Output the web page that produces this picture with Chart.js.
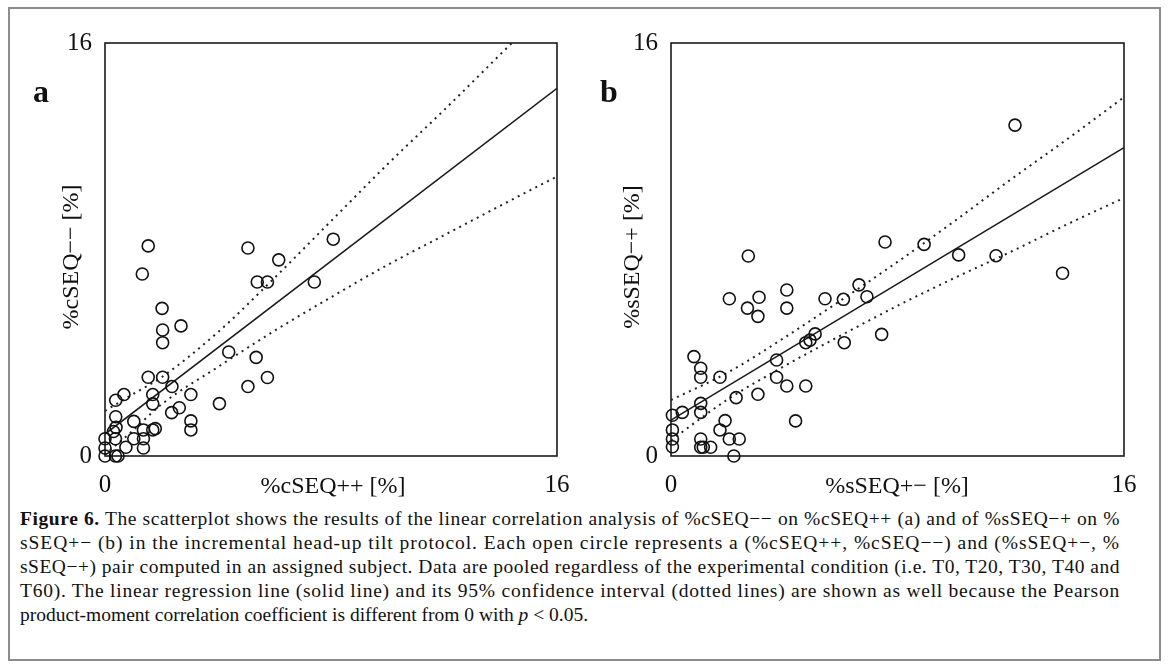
<!DOCTYPE html>
<html>
<head>
<meta charset="utf-8">
<script src="https://cdn.jsdelivr.net/npm/chart.js@4.4.1/dist/chart.umd.min.js"></script>
<style>
  body { margin: 0; background: #fff; }
  #page { position: relative; width: 1170px; height: 670px; overflow: hidden; font-family: "Liberation Serif", "Times New Roman", serif; color: #111; }
  #frame { position: absolute; left: 8px; top: 7px; width: 1153px; height: 654px; border: 2px solid #8c8c8c; box-sizing: border-box; }
  canvas { position: absolute; top: 0; }
  .tag { position: absolute; font-weight: bold; font-size: 32px; line-height: 32px; }
  .cap { position: absolute; left: 20px; font-size: 19.5px; line-height: 24px; white-space: nowrap; }
</style>
</head>
<body>
<div id="page">
  <div id="frame"></div>
  <canvas id="chartA" width="590" height="500" style="left:0px"></canvas>
  <canvas id="chartB" width="580" height="500" style="left:590px"></canvas>
  <div class="tag" style="left:33px; top:75px">a</div>
  <div class="tag" style="left:600px; top:75px">b</div>
  <div class="cap full" style="top:507px"><b>Figure 6.</b> The scatterplot shows the results of the linear correlation analysis of %cSEQ−− on %cSEQ++ (a) and of %sSEQ−+ on %</div>
  <div class="cap full" style="top:531px">sSEQ+− (b) in the incremental head-up tilt protocol. Each open circle represents a (%cSEQ++, %cSEQ−−) and (%sSEQ+−, %</div>
  <div class="cap full" style="top:555px">sSEQ−+) pair computed in an assigned subject. Data are pooled regardless of the experimental condition (i.e. T0, T20, T30, T40 and</div>
  <div class="cap full" style="top:579px">T60). The linear regression line (solid line) and its 95% confidence interval (dotted lines) are shown as well because the Pearson</div>
  <div class="cap" style="top:603px">product-moment correlation coefficient is different from 0 with <i>p</i> &lt; 0.05.</div>
</div>
<script>
// axis range and tick labels (same for both panels)
const axisMin = 0;
const axisMax = 16;
const tickVals = [0, 16];

// panel a: %cSEQ++ (x) vs %cSEQ-- (y)
const aX = [1.53, 1.32, 5.06, 8.08, 6.15, 5.39, 5.75, 7.41, 2.02, 2.69, 2.04, 2.04, 4.38, 5.35, 5.75, 5.06,
  4.05, 1.53, 2.04, 2.37, 3.04, 1.69, 1.69, 0.67, 0.38, 0.38, 2.63, 2.36, 1.02, 3.04, 3.04, 1.78,
  1.69, 1.36, 0.39, 0.30, 0, 0.37, 1.02, 1.36, 0, 0.74, 1.36, 0, 0.37, 0.46];
const aY = [8.14, 7.05, 8.06, 8.40, 7.60, 6.74, 6.74, 6.74, 5.72, 5.04, 4.88, 4.39, 4.03, 3.82, 3.04, 2.69,
  2.03, 3.05, 3.05, 2.69, 2.38, 2.38, 2.02, 2.38, 2.16, 1.52, 1.87, 1.68, 1.34, 1.36, 1.01, 1.06,
  1.01, 1.01, 1.11, 0.95, 0.67, 0.67, 0.67, 0.67, 0.31, 0.34, 0.31, 0, 0, 0];
const aFitX = [0, 16];
const aFitY = [0.85, 14.24];
const aUpX = [0, 1, 2, 4, 6, 8, 10, 12, 14.4];
const aUpY = [1.75, 2.4, 3.05, 4.8, 6.9, 9.1, 11.3, 13.4, 16];
const aLoX = [0, 1, 2, 4, 6, 8, 10, 12, 14, 16];
const aLoY = [0.05, 1.0, 2.0, 3.45, 4.85, 6.15, 7.4, 8.55, 9.7, 10.83];

// panel b: %sSEQ+- (x) vs %sSEQ-+ (y)
const bX = [7.56, 2.73, 4.09, 2.06, 3.11, 5.44, 6.09, 6.64, 6.92, 2.70, 4.09, 3.07, 7.44, 5.09, 4.91, 4.76,
  6.12, 0.81, 3.73, 1.05, 1.05, 1.73, 3.73, 4.09, 4.76, 3.07, 2.30, 1.05, 1.05, 0.40, 0.05, 4.40,
  1.91, 1.73, 0.05, 0.05, 0.05, 1.05, 2.06, 2.41, 1.05, 1.14, 1.40, 2.22,
  12.15, 8.94, 10.16, 11.48, 13.83];
const bY = [8.29, 7.75, 6.43, 6.09, 6.15, 6.09, 6.07, 6.63, 6.17, 5.73, 5.73, 5.41, 4.71, 4.73, 4.49, 4.39,
  4.39, 3.85, 3.72, 3.40, 3.05, 3.05, 3.05, 2.71, 2.71, 2.39, 2.26, 2.04, 1.69, 1.69, 1.58, 1.36,
  1.37, 1.01, 1.01, 0.66, 0.36, 0.66, 0.66, 0.66, 0.34, 0.34, 0.34, 0,
  12.82, 8.20, 7.79, 7.76, 7.08];
const bFitX = [0, 16];
const bFitY = [1.39, 11.95];
const bUpX = [0, 2, 4, 6, 8, 10, 12, 14, 16];
const bUpY = [2.17, 3.23, 4.58, 6.03, 7.52, 9.09, 10.71, 12.28, 13.9];
const bLoX = [0, 2, 4, 6, 8, 10, 12, 14, 16];
const bLoY = [0.61, 2.19, 3.48, 4.67, 5.82, 6.89, 7.91, 8.98, 10.0];

const serif = '"Liberation Serif", "Times New Roman", serif';
const ink = '#111';

function pairs(xs, ys) {
  return xs.map((x, i) => ({ x: x, y: ys[i] }));
}

// box around the plot area plus the two axis titles
const framePlugin = {
  id: 'frame',
  beforeDatasetsDraw(chart, args, opts) {
    const { ctx, chartArea: a } = chart;
    ctx.save();
    ctx.strokeStyle = '#1a1a1a';
    ctx.lineWidth = 1.6;
    ctx.strokeRect(a.left, a.top, a.right - a.left, a.bottom - a.top);
    ctx.restore();
  },
  afterDraw(chart, args, opts) {
    const ctx = chart.ctx;
    ctx.save();
    ctx.fillStyle = ink;
    ctx.font = '24px ' + serif;
    ctx.textAlign = 'center';
    ctx.textBaseline = 'middle';
    ctx.fillText(opts.xTitle, opts.xTitleX, opts.xTitleY);
    ctx.translate(opts.yTitleX, opts.yTitleY);
    ctx.rotate(-Math.PI / 2);
    ctx.fillText(opts.yTitle, 0, 0);
    ctx.restore();
  }
};

function makePanel(id, pts, fit, up, lo, pad, titles) {
  const scaleBase = {
    type: 'linear',
    min: axisMin,
    max: axisMax,
    grid: { display: false, drawTicks: false },
    border: { display: false },
    afterBuildTicks: s => { s.ticks = tickVals.map(v => ({ value: v })); },
    ticks: { color: ink, font: { family: serif, size: 25 } }
  };
  return new Chart(document.getElementById(id), {
    type: 'scatter',
    data: {
      datasets: [
        {
          data: pts, pointRadius: 6, pointBorderWidth: 1.6,
          borderColor: ink, backgroundColor: 'rgba(0,0,0,0)', clip: false
        },
        {
          data: fit, showLine: true, pointRadius: 0,
          borderColor: '#1a1a1a', borderWidth: 1.5
        },
        {
          data: up, showLine: true, pointRadius: 0, cubicInterpolationMode: 'monotone',
          borderColor: '#222', borderWidth: 2, borderDash: [2, 4.6]
        },
        {
          data: lo, showLine: true, pointRadius: 0, cubicInterpolationMode: 'monotone',
          borderColor: '#222', borderWidth: 2, borderDash: [2, 4.6]
        }
      ]
    },
    options: {
      responsive: false,
      animation: false,
      devicePixelRatio: 1,
      layout: { padding: pad },
      plugins: {
        legend: { display: false },
        tooltip: { enabled: false },
        frame: titles
      },
      scales: {
        x: Object.assign({}, scaleBase, {
          afterFit: s => { s.height = 44; },
          ticks: Object.assign({}, scaleBase.ticks, { padding: 14, maxRotation: 0 })
        }),
        y: Object.assign({}, scaleBase, {
          afterFit: s => { s.width = 50; },
          ticks: Object.assign({}, scaleBase.ticks, { padding: 13 })
        })
      }
    },
    plugins: [framePlugin]
  });
}

makePanel('chartA', pairs(aX, aY), pairs(aFitX, aFitY), pairs(aUpX, aUpY), pairs(aLoX, aLoY),
  { left: 55, right: 33, top: 43, bottom: 0 },
  { xTitle: '%cSEQ++ [%]', xTitleX: 333, xTitleY: 487, yTitle: '%cSEQ−− [%]', yTitleX: 72, yTitleY: 257 });

makePanel('chartB', pairs(bX, bY), pairs(bFitX, bFitY), pairs(bUpX, bUpY), pairs(bLoX, bLoY),
  { left: 31, right: 46, top: 43, bottom: 0 },
  { xTitle: '%sSEQ+− [%]', xTitleX: 307, xTitleY: 487, yTitle: '%sSEQ−+ [%]', yTitleX: 43, yTitleY: 257 });

// stretch the full caption lines to the same right edge, like the justified print
document.querySelectorAll('.cap.full').forEach(el => {
  const target = 1100;
  const w = el.getBoundingClientRect().width;
  const n = el.textContent.length;
  el.style.letterSpacing = ((target - w) / n).toFixed(3) + 'px';
});
</script>
</body>
</html>
